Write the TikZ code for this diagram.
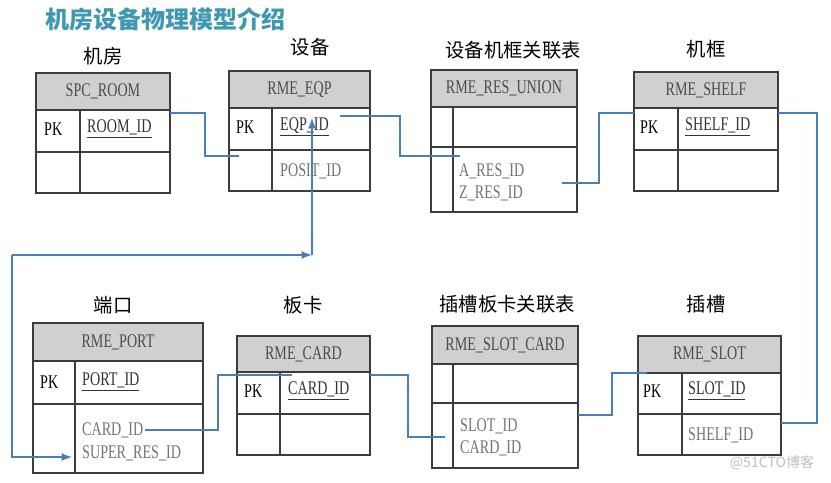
\documentclass[tikz,border=0pt]{standalone}
\usepackage{fontspec}
\setmainfont{Liberation Serif}
\newfontfamily\cjk{Noto Sans CJK SC}
\newfontfamily\tabfont[FakeStretch=0.73]{Liberation Serif}
\usepackage{tikz}
\usetikzlibrary{positioning,calc,arrows}

\definecolor{linkblue}{RGB}{74,126,187}
\definecolor{hdgray}{RGB}{208,208,208}
\definecolor{titleteal}{RGB}{62,152,178}
\definecolor{framegray}{RGB}{60,60,60}
\newcommand{\tabsize}{\fontsize{16.5}{16.5}\selectfont}

\begin{document}
\begin{tikzpicture}[x=0.3mm, y=-0.3mm,
  frame/.style={draw=framegray, line width=1.4pt},
  hd/.style={inner sep=0pt, font=\tabfont\tabsize, text=black!70},
  pk/.style={anchor=west, inner sep=0pt, font=\tabfont\tabsize, text=black},
  key/.style={anchor=west, inner sep=0pt, font=\tabfont\tabsize, text=black!80},
  fld/.style={anchor=west, inner sep=0pt, font=\tabfont\tabsize, text=black!55},
  cn/.style={inner sep=0pt, font=\cjk\fontsize{16.5}{16.5}\selectfont},
  link/.style={draw=linkblue, line width=2pt},
  arr/.style={link, -latex}]
\useasboundingbox (0,0) rectangle (831,482);

\node[font=\cjk\bfseries\fontsize{20.5}{20.5}\selectfont, text=titleteal, anchor=west, inner sep=0pt]
  (title) at (45,19) {机房设备物理模型介绍};

% table frames: name/left/divider/right/top/header/row/bottom/header text/label/label x/label y
\foreach \nm/\xa/\xd/\xb/\ya/\yb/\yc/\yd/\hdtext/\lbl/\lx/\ly in {
  room/36/80/170/73/110/152/193/SPC\_ROOM/机房/103/56,
  eqp/229/272/370/71/108/150/191/RME\_EQP/设备/310/47,
  res/431/453/577/70/107/147/212/RME\_RES\_UNION/设备机框关联表/513/50,
  shelf/634/678/778/72/108/150/191/RME\_SHELF/机框/706/49,
  port/33/75/203/323/361/404/473/RME\_PORT/端口/113/305,
  card/237/280/370/336/372/414/455/RME\_CARD/板卡/303/305,
  sc/432/453/578/326/364/403/468/RME\_SLOT\_CARD/插槽板卡关联表/507/304,
  slot/638/682/781/336/373/414/455/RME\_SLOT/插槽/706/304} {
  \fill[hdgray] (\xa,\ya) rectangle (\xb,\yb);
  \draw[frame] (\xa,\ya) rectangle (\xb,\yd);
  \draw[frame] (\xa,\yb) -- (\xb,\yb) (\xa,\yc) -- (\xb,\yc) (\xd,\yb) -- (\xd,\yd);
  \node[hd] (\nm-h) at ({(\xa+\xb)/2},{(\ya+\yb)/2}) {\hdtext};
  \node[cn] (\nm-t) at (\lx,\ly) {\lbl};
}

% keys and fields
\node[pk] (room-pk) at (44,129) {PK};
\node[key] (room-k) at (87,129) {\underline{ROOM\_ID}};
\node[pk] (eqp-pk) at (236,127) {PK};
\node[key] (eqp-k) at (280,127) {\underline{EQP\_ID}};
\node[fld] (eqp-f) at (280,171) {POSIT\_ID};
\node[fld] (res-a) at (459,171) {A\_RES\_ID};
\node[fld] (res-z) at (459,193) {Z\_RES\_ID};
\node[pk] (shelf-pk) at (640,127) {PK};
\node[key] (shelf-k) at (685,127) {\underline{SHELF\_ID}};
\node[pk] (port-pk) at (40,382) {PK};
\node[key] (port-k) at (82,382) {\underline{PORT\_ID}};
\node[fld] (port-c) at (82,430) {CARD\_ID};
\node[fld] (port-s) at (82,453) {SUPER\_RES\_ID};
\node[pk] (card-pk) at (244,391) {PK};
\node[key] (card-k) at (288,391) {\underline{CARD\_ID}};
\node[fld] (sc-s) at (460,426) {SLOT\_ID};
\node[fld] (sc-c) at (460,448) {CARD\_ID};
\node[pk] (slot-pk) at (643,391) {PK};
\node[key] (slot-k) at (688,391) {\underline{SLOT\_ID}};
\node[fld] (slot-f) at (688,435) {SHELF\_ID};

\node[font=\cjk\fontsize{12}{12}\selectfont, text=black!25, inner sep=0pt] (mark) at (772,463) {@51CTO博客};

% link ends
\coordinate (room-out) at (170,113);
\coordinate (eqp-in) at (239,156);
\coordinate (eqp-out) at (340,116);
\coordinate (res-in) at (460,156);
\coordinate (res-out) at (562,183);
\coordinate (shelf-in) at (634,113);
\coordinate (shelf-out) at (778,113);
\coordinate (slot-in) at (781,423);
\coordinate (slot-pkin) at (647,373);
\coordinate (sc-out) at (578,415);
\coordinate (sc-in) at (445,437);
\coordinate (card-out) at (370,375);
\coordinate (card-in) at (292,375);
\coordinate (port-out) at (145,430);
\coordinate (port-in) at (72,457);
\coordinate (eqp-arr) at (312,118);
\coordinate (corner) at (12,255);
\coordinate (bend) at (312,255);

\draw[link] (room-out) -| (205,156) -- (eqp-in);
\draw[link] (eqp-out) -| (400,156) -- (res-in);
\draw[link] (res-out) -| (599,113) -- (shelf-in);
\draw[link] (shelf-out) -| (817,423) -- (slot-in);
\draw[link] (sc-out) -| (612,373) -- (slot-pkin);
\draw[link] (card-out) -| (408,437) -- (sc-in);
\draw[link] (port-out) -| (218,375) -- (card-in);
\draw[arr] (corner) -- (bend);
\draw[arr] (bend) -- (eqp-arr);
\draw[arr] (corner) |- (port-in);
\end{tikzpicture}
\end{document}
